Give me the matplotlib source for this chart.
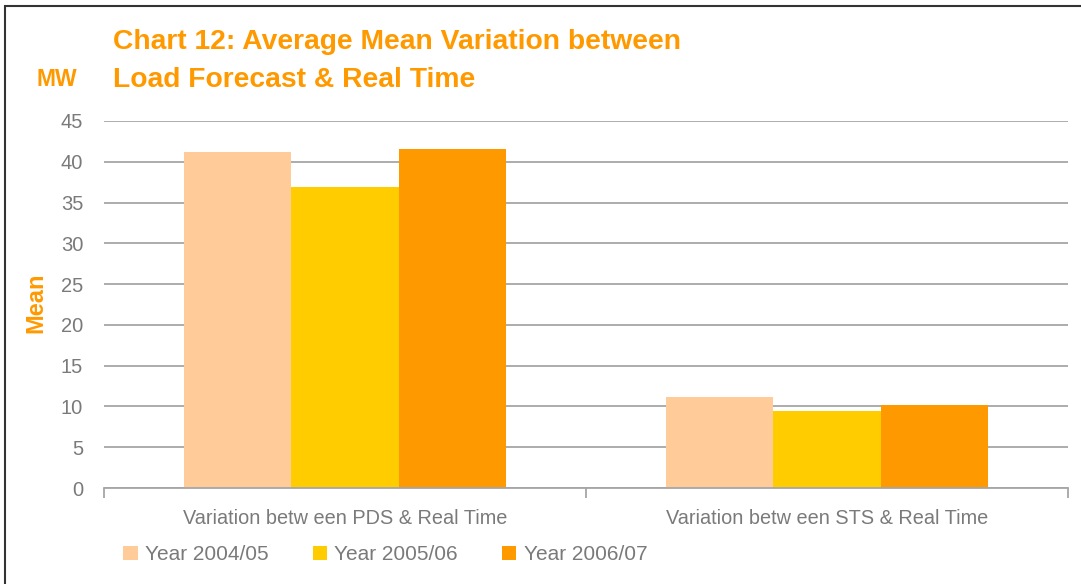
import numpy as np
import matplotlib.pyplot as plt
from matplotlib.patches import Rectangle

categories = ['Variation betw een PDS & Real Time', 'Variation betw een STS & Real Time']
series = ['Year 2004/05', 'Year 2005/06', 'Year 2006/07']
year_0405 = [41.2, 11.2]
year_0506 = [36.9, 9.5]
year_0607 = [41.6, 10.2]
values = [year_0405, year_0506, year_0607]
colors = ['#FFCC99', '#FFCC00', '#FF9900']
yticks = [0, 5, 10, 15, 20, 25, 30, 35, 40, 45]

W, H = 1081, 584
fig = plt.figure(figsize=(W / 100, H / 100), dpi=100)
plt.rcParams['font.family'] = ['Liberation Sans', 'DejaVu Sans']

ax = fig.add_axes([104 / W, 1 - 488 / H, (1068 - 104) / W, (488 - 121) / H])

x = np.arange(len(categories))
w = 0.222
for i, (vals, c) in enumerate(zip(values, colors)):
    ax.bar(x + (i - 1) * w, vals, width=w, color=c, label=series[i], zorder=3)

grey = '#7A7A7A'
ax.set_xlim(-0.5, 1.5)
ax.set_ylim(0, 45)
ax.set_yticks(yticks)
ax.yaxis.grid(True, color='#A6A6A6', linewidth=1.3, zorder=0)
ax.tick_params(axis='y', length=0, labelsize=14.5, labelcolor=grey, pad=15)
for s in ['left', 'right', 'top']:
    ax.spines[s].set_visible(False)
ax.spines['bottom'].set_color('#A6A6A6')
ax.spines['bottom'].set_linewidth(1.3)
ax.spines['bottom'].set_zorder(4)

ax.set_xticks([-0.5, 0.5, 1.5])
ax.set_xticklabels([])
ax.tick_params(axis='x', direction='out', length=7, color='#A6A6A6', width=1.3)
ax.set_xticks(x, minor=True)
ax.set_xticklabels(categories, minor=True)
ax.tick_params(axis='x', which='minor', length=0, labelsize=14.3, labelcolor=grey, pad=15)

orange = '#FF9900'
fig.text(113 / W, 1 - 42 / H, 'Chart 12: Average Mean Variation between', color=orange,
         fontsize=20.3, fontweight='bold', va='center', ha='left')
fig.text(113 / W, 1 - 80 / H, 'Load Forecast & Real Time', color=orange,
         fontsize=20.3, fontweight='bold', va='center', ha='left')
fig.text(37 / W, 1 - 80 / H, 'MW', color=orange, fontsize=16.5, fontweight='bold',
         va='center', ha='left')
fig.text(36 / W, 1 - 303 / H, 'Mean', color=orange, fontsize=17, fontweight='bold',
         va='center', ha='center', rotation=90)

leg = ax.legend(loc='upper left', bbox_to_anchor=(115 / W, 1 - 537 / H),
                bbox_transform=fig.transFigure, ncol=3, frameon=False,
                fontsize=15, handlelength=0.7, handleheight=0.7, handletextpad=0.35,
                columnspacing=2.1, borderaxespad=0)
for t in leg.get_texts():
    t.set_color(grey)

fig.patches.append(Rectangle((5 / W, -0.1), 1.2, 1 - 6 / H + 0.1, transform=fig.transFigure,
                             fill=False, edgecolor='#333333', linewidth=1.5))

fig.savefig('out.png', dpi=100)
